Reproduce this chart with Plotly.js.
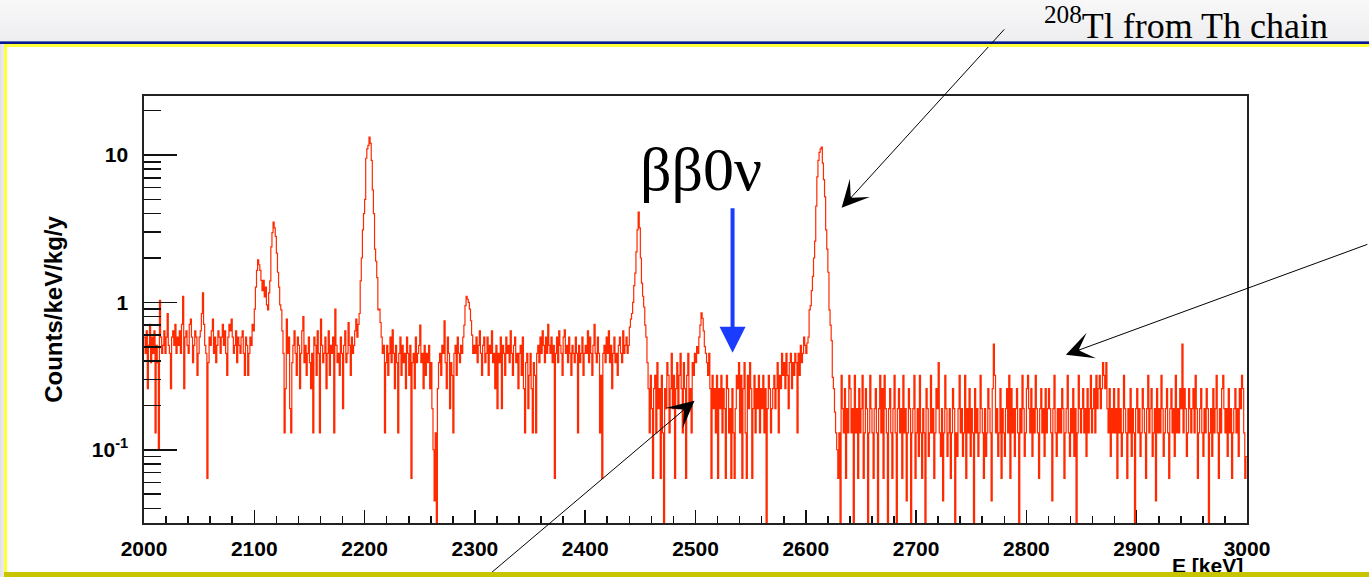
<!DOCTYPE html>
<html>
<head>
<meta charset="utf-8">
<script src="https://cdn.plot.ly/plotly-3.0.1.min.js"></script>
<style>
  html, body { margin:0; padding:0; background:#ffffff; }
  #page { position:relative; width:1369px; height:577px; overflow:hidden; background:#ffffff; }
  .deco { position:absolute; }
  #plot { position:absolute; left:0; top:0; width:1369px; height:577px; z-index:1; }
</style>
</head>
<body>
<div id="page">
  <div class="deco" style="left:0;top:0;width:1369px;height:41px;background:linear-gradient(#f8f8f9,#eeeef0);z-index:0"></div>
  <div class="deco" style="left:0;top:41px;width:1369px;height:1px;background:#5868b0;z-index:0"></div>
  <div class="deco" style="left:0;top:42px;width:1369px;height:2px;background:#0a1890;z-index:0"></div>
  <div class="deco" style="left:0;top:44px;width:4px;height:533px;background:linear-gradient(90deg,#e2e2e6,#ececef);z-index:0"></div>
  <div class="deco" style="left:4px;top:44px;width:1365px;height:3px;background:#ffff3a;z-index:2"></div>
  <div class="deco" style="left:4px;top:44px;width:3px;height:533px;background:#ffff3a;z-index:2"></div>
  <div class="deco" style="left:4px;top:572px;width:1365px;height:5px;background:#c8c400;z-index:2"></div>
  <div id="plot"></div>
</div>
<script>
// Energy spectrum, 1 keV bins from 2000 to 3000 keV, values in counts/keV/kg/y
var binLow = 2000;
var binWidth = 1;

var seg2000 = [
  0.58,0.45,0.64,0.26,0.51,0.71,0.39,0.58,0.45,0.64,
  0.13,0.51,0.39,0.1,1.03,0.58,0.45,0.51,0.64,0.45,
  0.58,0.84,0.51,0.45,0.26,0.58,0.64,0.51,0.71,0.45,
  0.58,0.51,0.64,0.45,0.71,1.1,0.26,0.58,0.64,0.51,
  0.45,0.71,0.77,0.58,0.39,0.51,0.64,0.58,0.32,0.45,
  0.58,0.64,0.84,1.16,0.71,0.51,0.45,0.064,0.39,0.58,
  0.51,0.64,0.77,0.45,0.58,0.39,0.51,0.64,0.58,0.45,
  0.58,0.71,0.51,0.64,0.45,0.32,0.58,0.71,0.64,0.77,
  0.58,0.45,0.51,0.64,0.39,0.58,0.51,0.45,0.58,0.64,
  0.45,0.32,0.58,0.51,0.32,0.45,0.58,0.51,0.71,0.64
];
var seg2100 = [
  0.9,1.27,1.65,1.94,1.8,1.65,1.41,1.2,1.41,1.09,
  1.27,0.96,0.89,1.16,1.4,2.38,2.97,3.5,3.2,2.8,
  2.16,1.6,1.27,0.96,0.89,0.64,0.45,0.13,0.26,0.77,
  0.45,0.58,0.19,0.13,0.39,0.51,0.64,0.45,0.32,0.58,
  0.51,0.26,0.45,0.64,0.8,0.39,0.51,0.32,0.45,0.58,
  0.39,0.26,0.45,0.13,0.58,0.51,0.32,0.64,0.45,0.13,
  0.77,0.51,0.39,0.45,0.58,0.26,0.45,0.64,0.32,0.51,
  0.45,0.58,0.13,0.9,0.51,0.39,0.45,0.32,0.58,0.45,
  0.19,0.51,0.64,0.39,0.45,0.73,0.51,0.32,0.58,0.45,
  0.51,0.64,0.77,0.58,0.71,0.84,1.4,2.0,3.1,4.0
];
var seg2200 = [
  5.0,9.5,11.0,11.6,13.2,12.0,9.2,5.8,4.0,2.3,
  1.9,1.47,0.89,0.9,0.73,0.58,0.45,0.51,0.13,0.39,
  0.51,0.32,0.45,0.58,0.39,0.65,0.45,0.26,0.51,0.39,
  0.13,0.45,0.58,0.32,0.51,0.39,0.45,0.26,0.58,0.45,
  0.32,0.51,0.064,0.39,0.45,0.26,0.58,0.39,0.45,0.51,
  0.7,0.39,0.45,0.26,0.51,0.32,0.45,0.39,0.51,0.26,
  0.39,0.19,0.1,0.045,0.13,0,0.26,0.39,0.45,0.32,
  0.51,0.45,0.75,0.39,0.26,0.58,0.45,0.19,0.39,0.32,
  0.13,0.45,0.51,0.32,0.58,0.45,0.39,0.51,0.45,0.58,
  0.7,0.95,1.1,1.05,1.0,0.9,0.75,0.6,0.45,0.51
];
var seg2300 = [
  0.45,0.58,0.39,0.51,0.64,0.45,0.32,0.51,0.58,0.39,
  0.45,0.58,0.32,0.51,0.45,0.64,0.39,0.45,0.26,0.51,
  0.19,0.45,0.39,0.58,0.19,0.51,0.45,0.32,0.58,0.45,
  0.51,0.39,0.64,0.45,0.32,0.51,0.58,0.39,0.45,0.26,
  0.45,0.51,0.32,0.58,0.26,0.13,0.39,0.45,0.19,0.32,
  0.45,0.26,0.13,0.39,0.32,0.13,0.45,0.51,0.39,0.58,
  0.45,0.64,0.51,0.39,0.58,0.45,0.71,0.51,0.45,0.58,
  0.39,0.51,0.064,0.45,0.58,0.39,0.64,0.51,0.45,0.32,
  0.58,0.65,0.45,0.51,0.39,0.58,0.45,0.32,0.51,0.45,
  0.39,0.58,0.45,0.13,0.51,0.39,0.45,0.58,0.32,0.45
];
var seg2400 = [
  0.51,0.45,0.64,0.39,0.58,0.45,0.32,0.51,0.71,0.45,
  0.39,0.58,0.45,0.13,0.32,0.064,0.45,0.51,0.39,0.58,
  0.45,0.64,0.39,0.51,0.26,0.45,0.58,0.39,0.45,0.32,
  0.51,0.58,0.45,0.39,0.64,0.45,0.51,0.58,0.45,0.51,
  0.68,0.77,0.84,1.0,1.3,1.58,2.2,3.1,4.1,3.2,
  2.0,1.35,1.1,0.93,0.7,0.58,0.39,0.26,0.13,0.32,
  0.19,0.064,0.26,0.32,0.13,0.39,0.19,0.26,0.064,0.32,
  0.13,0,0.26,0.19,0.39,0.32,0.13,0.26,0.45,0.19,
  0.32,0.064,0.26,0.39,0.19,0.32,0.45,0.26,0.13,0.39,
  0.26,0.064,0.32,0.45,0.19,0.26,0.13,0.39,0.32,0.45
];
var seg2500 = [
  0.39,0.5,0.45,0.58,0.7,0.85,0.78,0.64,0.5,0.45,
  0.39,0.32,0.45,0.26,0.064,0.32,0.19,0.26,0.13,0.32,
  0.064,0.26,0.19,0.32,0.13,0.26,0.19,0.064,0.32,0.26,
  0.13,0.19,0.064,0.26,0.13,0.064,0.19,0.32,0.26,0.39,
  0.13,0.32,0.064,0.26,0.39,0.13,0.064,0.32,0.19,0.39,
  0.26,0.064,0.19,0.32,0.13,0.26,0.19,0.32,0.13,0.26,
  0.19,0.32,0.13,0.26,0,0.19,0.32,0.26,0.13,0.19,
  0.26,0.32,0.19,0.26,0.39,0.13,0.32,0.26,0.45,0.32,
  0.39,0.26,0.45,0.32,0.19,0.39,0.45,0.26,0.39,0.32,
  0.45,0.39,0.13,0.45,0.32,0.51,0.39,0.45,0.58,0.51
];
var seg2600 = [
  0.45,0.53,0.58,0.89,0.95,1.2,1.5,2.0,2.6,4.5,
  7.1,9.2,10.4,11.0,11.3,8.8,6.8,5.2,3.1,2.3,
  1.6,0.89,0.7,0.55,0.31,0.26,0.18,0.13,0.1,0.064,
  0.13,0,0.32,0.19,0.13,0.26,0.064,0.19,0.13,0.32,
  0.26,0.13,0.19,0,0.32,0.13,0.19,0.064,0.26,0.13,
  0.19,0.32,0.064,0.13,0.26,0.19,0,0.13,0.32,0.19,
  0.13,0.064,0.19,0.26,0.13,0,0.19,0.32,0.13,0.26,
  0.064,0.32,0.19,0.13,0,0.19,0.26,0.13,0.064,0.19,
  0.32,0.13,0,0.19,0.26,0.13,0.19,0.064,0.32,0.13,
  0.19,0.045,0.13,0.26,0.19,0,0.13,0.19,0.32,0.064
];
var seg2700 = [
  0.13,0.19,0.09,0.32,0.13,0.064,0.19,0.13,0,0.26,
  0.19,0.09,0.13,0.32,0.13,0.19,0.064,0.13,0.26,0.19,
  0.39,0.13,0.09,0.19,0.045,0.13,0.32,0.19,0.09,0.13,
  0.19,0.064,0.13,0.26,0.19,0,0.13,0.09,0.19,0.32,
  0.13,0.19,0.09,0.13,0.32,0.064,0.19,0.13,0.26,0.09,
  0.19,0.13,0,0.26,0.13,0.19,0.09,0.13,0.32,0.19,
  0.13,0.064,0.19,0.09,0.13,0.26,0.19,0.13,0.045,0.26,
  0.52,0.32,0.13,0.19,0.09,0.13,0.26,0.064,0.19,0.13,
  0.09,0.19,0.26,0.13,0.32,0.064,0.26,0.13,0.19,0.09,
  0.19,0.26,0.13,0,0.19,0.13,0.32,0.19,0.09,0.13
];
var seg2800 = [
  0.26,0.32,0.19,0.13,0.26,0.09,0.19,0.13,0.32,0.19,
  0.13,0.064,0.19,0.26,0.13,0.19,0.09,0.26,0.13,0.19,
  0.26,0.19,0.13,0.045,0.19,0.32,0.13,0.09,0.19,0.13,
  0.19,0.13,0.26,0.19,0.064,0.13,0.19,0.32,0.13,0.09,
  0.19,0.13,0.26,0.09,0.19,0,0.13,0.32,0.19,0.13,
  0.19,0.26,0.13,0.19,0.09,0.26,0.13,0.19,0.32,0.13,
  0.19,0.26,0.13,0.32,0.19,0.26,0.32,0.19,0.26,0.39,
  0.32,0.26,0.39,0.19,0.13,0.26,0.09,0.19,0.13,0.26,
  0.13,0.19,0.064,0.26,0.13,0.19,0.09,0.13,0.32,0.19,
  0.13,0.064,0.19,0.13,0.26,0.09,0.19,0.13,0,0.19
];
var seg2900 = [
  0.26,0.13,0.19,0.09,0.13,0.26,0.19,0.13,0.064,0.19,
  0.32,0.13,0.19,0.26,0.09,0.13,0.19,0.045,0.26,0.13,
  0.19,0.13,0.32,0.19,0.09,0.13,0.19,0.26,0.13,0.064,
  0.19,0.26,0.13,0.19,0.09,0.32,0.13,0.19,0.13,0.26,
  0.19,0.52,0.13,0.26,0.19,0.09,0.13,0.26,0.19,0.13,
  0.19,0.26,0.13,0.32,0.19,0.064,0.13,0.19,0.26,0.13,
  0.09,0.19,0.13,0.26,0.19,0,0.13,0.19,0.09,0.26,
  0.13,0.19,0.32,0.13,0.064,0.19,0.13,0.26,0.32,0.19,
  0.13,0.19,0.09,0.26,0.13,0.19,0.064,0.13,0.19,0.26,
  0.13,0.19,0.09,0.26,0.19,0.32,0.26,0.13,0.064,0.09
];

var xTickVals = [2000,2100,2200,2300,2400,2500,2600,2700,2800,2900,3000];
var yTickVals = [0.1, 1, 10];
var yTickText = ['10<sup>-1</sup>', '1', '10'];
var yMinorVals = [0.04,0.05,0.06,0.07,0.08,0.09,0.2,0.3,0.4,0.5,0.6,0.7,0.8,0.9,2,3,4,5,6,7,8,9,20];

var values = [].concat(seg2000, seg2100, seg2200, seg2300, seg2400,
                       seg2500, seg2600, seg2700, seg2800, seg2900);

// histogram step outline: left edge of every bin, plus the closing edge
var xs = [], ys = [];
for (var i = 0; i < values.length; i++) {
  xs.push(binLow + i * binWidth);
  // empty bins are drawn down past the bottom of the log axis, as ROOT does
  ys.push(values[i] > 0 ? values[i] : 1e-4);
}
xs.push(binLow + values.length * binWidth);
ys.push(ys[ys.length - 1]);

var axisFont = {family:'Liberation Sans, Arial, Helvetica, sans-serif', size:21, color:'#000', weight:'bold'};
var titleFont = {family:'Liberation Sans, Arial, Helvetica, sans-serif', size:24, color:'#000', weight:'bold'};

var trace = {
  type:'scatter', mode:'lines', x:xs, y:ys,
  line:{shape:'hv', color:'#ff2a00', width:1.2},
  hoverinfo:'skip'
};

var layout = {
  width:1369, height:577,
  margin:{l:144, r:122, t:96, b:54, pad:0},
  paper_bgcolor:'rgba(0,0,0,0)',
  plot_bgcolor:'#ffffff',
  showlegend:false,
  xaxis:{
    range:[2000,3000], tickmode:'array', tickvals:xTickVals,
    ticks:'inside', ticklen:13, tickwidth:1.6, tickcolor:'#111',
    showline:true, linecolor:'#222', linewidth:1.6, mirror:true,
    showgrid:false, zeroline:false, tickfont:axisFont, ticklabelstandoff:6,
    minor:{ticks:'inside', ticklen:7, tickwidth:1.6, tickcolor:'#111', dtick:20, tick0:2000, showgrid:false}
  },
  yaxis:{
    type:'log', range:[-1.497,1.4], tickmode:'array', tickvals:yTickVals, ticktext:yTickText,
    ticks:'inside', ticklen:33, tickwidth:1.6, tickcolor:'#111',
    showline:true, linecolor:'#222', linewidth:1.6, mirror:true,
    showgrid:false, zeroline:false, tickfont:axisFont, ticklabelstandoff:10,
    minor:{ticks:'inside', ticklen:17, tickwidth:1.6, tickcolor:'#111', tickmode:'array', tickvals:yMinorVals, showgrid:false},
    title:{text:'Counts/keV/kg/y', font:titleFont, standoff:22}
  },
  annotations:[
    {xref:'paper', yref:'paper', x:0.998, y:-0.1, xanchor:'right', yanchor:'middle',
     text:'E [keV]', showarrow:false, font:axisFont},
    {xref:'paper', yref:'paper', x:1.0752, y:1.169, xanchor:'right', yanchor:'middle',
     text:'<sup>208</sup>Tl from Th chain', showarrow:false,
     font:{family:'Liberation Serif, Times New Roman, serif', size:36, color:'#000'}},
    {xref:'paper', yref:'paper', x:0.505, y:0.83, xanchor:'center', yanchor:'middle',
     text:'ββ0ν', showarrow:false,
     font:{family:'Liberation Serif, Times New Roman, serif', size:62, color:'#000'}},
    // blue arrow at the ββ0ν Q-value
    {xref:'x', yref:'y', x:2533.6, y:-0.342, ax:0, ay:-146, text:'', showarrow:true,
     arrowhead:2, arrowsize:1.3, arrowwidth:4, arrowcolor:'#1a3cff', standoff:0},
    // 208Tl arrow
    {xref:'x', yref:'y', x:2632.5, y:0.641, ax:164, ay:-180, text:'', showarrow:true,
     arrowhead:3, arrowsize:4.5, arrowwidth:1, arrowcolor:'#000', standoff:0},
    // right arrow (flat background)
    {xref:'x', yref:'y', x:2835.8, y:-0.356, ax:303, ay:-111, text:'', showarrow:true,
     arrowhead:3, arrowsize:4.5, arrowwidth:1, arrowcolor:'#000', standoff:0},
    // bottom arrow (60Co sum peak)
    {xref:'x', yref:'y', x:2499.1, y:-0.668, ax:-208, ay:176, text:'', showarrow:true,
     arrowhead:3, arrowsize:4.5, arrowwidth:1, arrowcolor:'#000', standoff:0}
  ]
};

Plotly.newPlot('plot', [trace], layout, {staticPlot:true, displayModeBar:false});
</script>
</body>
</html>
